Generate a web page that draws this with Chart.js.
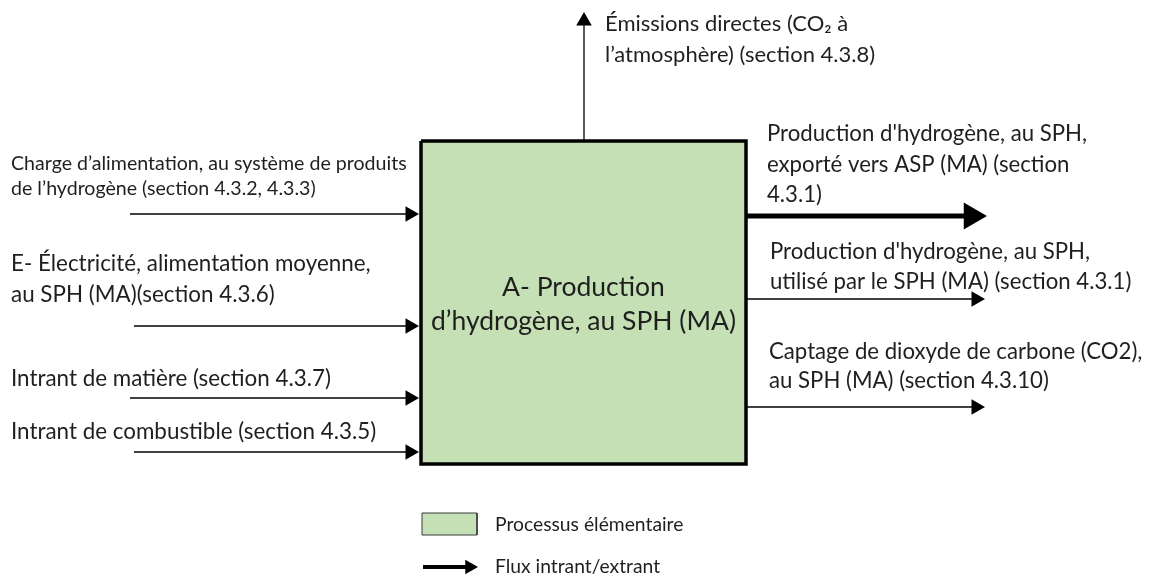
<!DOCTYPE html>
<html>
<head>
<meta charset="utf-8">
<script src="https://cdn.jsdelivr.net/npm/chart.js@4.4.1/dist/chart.umd.min.js"></script>
<style>
  body { margin: 0; background: #fff; }
  #wrap { width: 1149px; height: 575px; }
</style>
</head>
<body>
<div id="wrap"><canvas id="myChart" width="1149" height="575"></canvas></div>
<script>
// process box (diagram units = page pixels, y downwards)
const boxX = [421, 746];
const boxY = [141, 464];
const boxTitle = ["A- Production", "d’hydrogène, au SPH (MA)"];

// inputs, arriving on the left side of the box
const inputLabels = [
    ["Charge d’alimentation, au système de produits", "de l’hydrogène (section 4.3.2, 4.3.3)"],
    ["E- Électricité, alimentation moyenne,", "au SPH (MA)(section 4.3.6)"],
    ["Intrant de matière (section 4.3.7)"],
    ["Intrant de combustible (section 4.3.5)"],
];
const inputY = [214, 326, 398, 452];
const inputStartX = [130, 134, 130, 134];

// outputs, leaving on the right side
const outputLabels = [
    ["Production d'hydrogène, au SPH,", "exporté vers ASP (MA) (section", "4.3.1)"],
    ["Production d'hydrogène, au SPH,", "utilisé par le SPH (MA) (section 4.3.1)"],
    ["Captage de dioxyde de carbone (CO2),", "au SPH (MA) (section 4.3.10)"],
];
const outputY = [216, 299, 407];
const outputTipX = [987, 985, 985];

// direct emissions, leaving from the top
const emissionLabel = ["Émissions directes (CO₂ à", "l’atmosphère) (section 4.3.8)"];
const emissionX = 584;
const emissionTipY = 12;

// legend
const legendLabels = ["Processus élémentaire", "Flux intrant/extrant"];

// ---- styling / layout (not data) ----
const GREEN = "#c5e0b4";
const TEXT = "#1f1f1f";
const FONT = "Lato, 'Open Sans', sans-serif";
const inputText = [
    { x: 11, y: [164, 189], size: 19.6 },
    { x: 11, y: [264, 295], size: 22.4 },
    { x: 11, y: [379], size: 22.4 },
    { x: 11, y: [432], size: 22.4 },
];
const outputText = [
    { x: 767, y: [134, 165, 195], size: 22.2 },
    { x: 770, y: [252, 282], size: 22.2 },
    { x: 769, y: [352, 381], size: 22.2 },
];
const outputWidth = [5, 1.3, 1.3];
const outputHead = [15.5, 9, 9];

function arrow(x0, y0, x1, y1, width, r, rot) {
    // head centre sits r back from the tip
    const dx = Math.sign(x1 - x0), dy = Math.sign(y1 - y0);
    return {
        data: [{ x: x0, y: y0 }, { x: x1 - dx * r, y: y1 - dy * r }],
        showLine: true,
        borderColor: "#000",
        borderWidth: width,
        borderCapStyle: "butt",
        pointRadius: [0, r],
        pointStyle: "triangle",
        rotation: rot,
        pointBackgroundColor: "#000",
        pointBorderWidth: 0,
        fill: false,
    };
}

function rect(xs, ys, fillColor, lineColor, width) {
    return {
        data: [
            { x: xs[0], y: ys[0] }, { x: xs[1], y: ys[0] },
            { x: xs[1], y: ys[1] }, { x: xs[0], y: ys[1] }, { x: xs[0], y: ys[0] },
        ],
        showLine: true,
        fill: "shape",
        backgroundColor: fillColor,
        borderColor: lineColor,
        borderWidth: width,
        borderJoinStyle: "miter",
        pointRadius: 0,
    };
}

const datasets = [];
datasets.push(rect(boxX, boxY, GREEN, "#000", 3.5));
inputY.forEach((y, i) => datasets.push(arrow(inputStartX[i], y, boxX[0] - 2, y, 1.3, 9, 90)));
outputY.forEach((y, i) => datasets.push(arrow(boxX[1], y, outputTipX[i], y, outputWidth[i], outputHead[i], 90)));
datasets.push(arrow(emissionX, boxY[0], emissionX, emissionTipY, 1.3, 9, 0));
datasets.push(rect([422, 477], [513, 535], GREEN, "#3a3a3a", 1));
datasets.push(arrow(423, 567, 478, 567, 4, 8.5, 90));

const textPlugin = {
    id: "diagramText",
    afterDatasetsDraw(chart) {
        const ctx = chart.ctx;
        const sx = chart.scales.x, sy = chart.scales.y;
        const put = (str, x, y, size, align) => {
            ctx.font = size + "px " + FONT;
            ctx.textAlign = align || "left";
            ctx.fillText(str, sx.getPixelForValue(x), sy.getPixelForValue(y));
        };
        ctx.save();
        ctx.fillStyle = TEXT;
        ctx.textBaseline = "middle";
        inputLabels.forEach((lines, i) => {
            lines.forEach((s, j) => put(s, inputText[i].x, inputText[i].y[j], inputText[i].size));
        });
        outputLabels.forEach((lines, i) => {
            lines.forEach((s, j) => put(s, outputText[i].x, outputText[i].y[j], outputText[i].size));
        });
        put(emissionLabel[0], 605, 24, 22);
        put(emissionLabel[1], 605, 55, 22);
        put(boxTitle[0], (boxX[0] + boxX[1]) / 2, 287, 26.5, "center");
        put(boxTitle[1], (boxX[0] + boxX[1]) / 2, 321, 26.5, "center");
        put(legendLabels[0], 495, 525, 19.3);
        put(legendLabels[1], 495, 567, 19.3);
        ctx.restore();
    },
};

new Chart(document.getElementById("myChart"), {
    type: "scatter",
    data: { datasets: datasets },
    options: {
        responsive: false,
        animation: false,
        events: [],
        layout: { padding: 0, autoPadding: false },
        scales: {
            x: { type: "linear", min: 0, max: 1149, display: false },
            y: { type: "linear", min: 0, max: 575, reverse: true, display: false },
        },
        plugins: {
            legend: { display: false },
            tooltip: { enabled: false },
        },
        elements: { line: { tension: 0 } },
    },
    plugins: [textPlugin],
});
</script>
</body>
</html>
